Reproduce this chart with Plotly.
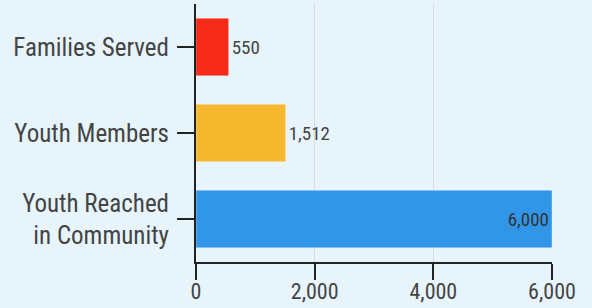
import plotly.graph_objects as go

categories = ["Families Served", "Youth Members", "Youth Reached<br>in Community"]
values = [550, 1512, 6000]
colors = ["#F72A17", "#F5B82E", "#3296E8"]
text_labels = ["550", "1,512", "6,000"]
text_positions = ["outside", "outside", "inside"]
x_tickvals = [0, 2000, 4000, 6000]
x_ticktext = ["0", "2,000", "4,000", "6,000"]

FONT = "Roboto Condensed, Liberation Sans Narrow, Roboto"

fig = go.Figure(go.Bar(
    y=categories, x=values, orientation="h",
    marker=dict(color=colors, line=dict(color="rgba(255,255,255,0.35)", width=1)),
    text=text_labels, textposition=text_positions,
    insidetextanchor="end", cliponaxis=False,
    textfont=dict(family=FONT, size=19, color="#444"),
    insidetextfont=dict(family=FONT, size=19, color="#333"),
    outsidetextfont=dict(family=FONT, size=19, color="#444"),
))

fig.update_layout(
    width=592, height=308,
    margin=dict(l=196, r=40, t=4, b=46),
    paper_bgcolor="#E7F4FC", plot_bgcolor="#E7F4FC",
    bargap=0.33, showlegend=False,
    font=dict(family=FONT, size=24, color="#444"),
)
fig.update_xaxes(
    range=[0, 6000], tickvals=x_tickvals, ticktext=x_ticktext,
    showgrid=True, gridcolor="#DADADA", gridwidth=1,
    showline=True, linecolor="#222", linewidth=2,
    ticks="outside", ticklen=16, tickwidth=2, tickcolor="#222",
    zeroline=False, automargin=False, ticklabelstandoff=-7,
    tickfont=dict(family=FONT, size=22, color="#444"),
)
fig.update_yaxes(
    autorange="reversed", showline=True, linecolor="#222", linewidth=2,
    ticks="outside", ticklen=17, tickwidth=2, tickcolor="#222", automargin=False,
    tickfont=dict(family=FONT, size=25, color="#444"), ticklabelstandoff=3,
)
fig.write_html("out.html", config={"displayModeBar": False},
               post_script="document.body.style.margin='0';")
